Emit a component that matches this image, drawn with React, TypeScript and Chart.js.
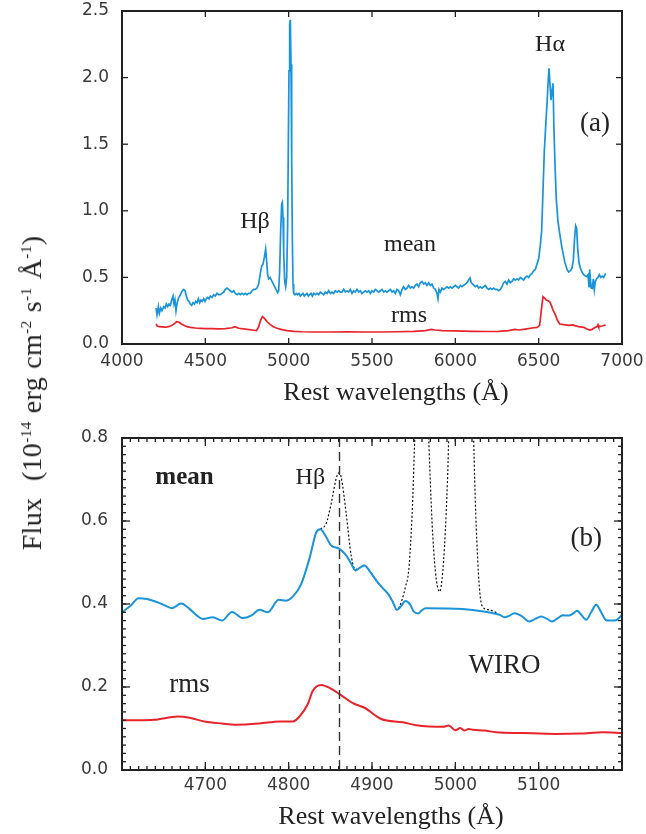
import { useEffect, useRef } from 'react';
import { Chart, registerables } from 'chart.js';

Chart.register(...registerables);

// ---------- Panel (a): full optical spectrum ----------
const fullMeanWave = [
  4204, 4210, 4218, 4224, 4232, 4240, 4250, 4258, 4266, 4274, 4282, 4290, 4298, 4306, 4312, 4318, 4324, 4330,
  4338, 4346, 4354, 4362, 4370, 4378, 4386, 4394, 4402, 4410, 4418, 4426, 4434, 4442, 4450, 4458, 4466, 4474,
  4482, 4490, 4498, 4506, 4514, 4522, 4530, 4540, 4550, 4560, 4570, 4580, 4590, 4600, 4610, 4620, 4630, 4640,
  4650, 4660, 4670, 4680, 4690, 4700, 4710, 4720, 4730, 4740, 4750, 4760, 4770, 4780, 4790, 4800, 4810, 4820,
  4830, 4838, 4846, 4854, 4862, 4868, 4874, 4880, 4888, 4896, 4904, 4912, 4920, 4928, 4934, 4940, 4946, 4952,
  4958, 4962, 4966, 4970, 4976, 4982, 4988, 4994, 4998, 5002, 5006, 5010, 5014, 5018, 5022, 5026, 5030, 5038,
  5046, 5054, 5062, 5070, 5078, 5086, 5094, 5102, 5110, 5118, 5126, 5134, 5142, 5150, 5160, 5170, 5180, 5190,
  5200, 5210, 5220, 5230, 5240, 5250, 5260, 5270, 5280, 5290, 5300, 5310, 5320, 5330, 5340, 5350, 5360, 5370,
  5380, 5390, 5400, 5410, 5420, 5430, 5440, 5450, 5460, 5470, 5480, 5490, 5500, 5510, 5520, 5530, 5540, 5550,
  5560, 5570, 5580, 5590, 5600, 5610, 5620, 5630, 5640, 5650, 5660, 5670, 5680, 5690, 5700, 5710, 5720, 5730,
  5740, 5750, 5760, 5770, 5780, 5790, 5800, 5810, 5820, 5830, 5840, 5850, 5860, 5870, 5880, 5890, 5896, 5902,
  5910, 5920, 5930, 5940, 5950, 5960, 5970, 5980, 5990, 6000, 6010, 6020, 6030, 6040, 6050, 6060, 6070, 6080,
  6088, 6096, 6104, 6112, 6120, 6130, 6140, 6150, 6160, 6170, 6180, 6190, 6200, 6210, 6220, 6230, 6240, 6250,
  6260, 6270, 6280, 6290, 6300, 6310, 6320, 6330, 6340, 6350, 6360, 6370, 6380, 6390, 6400, 6410, 6420, 6430,
  6440, 6450, 6460, 6470, 6480, 6490, 6500, 6510, 6518, 6526, 6534, 6542, 6550, 6556, 6562, 6568, 6574, 6580,
  6586, 6592, 6598, 6606, 6616, 6626, 6640, 6656, 6670, 6680, 6690, 6700, 6708, 6716, 6722, 6728, 6734, 6742,
  6750, 6760, 6770, 6780, 6788, 6796, 6802, 6806, 6812, 6816, 6822, 6828, 6834, 6840, 6848, 6856, 6864, 6872,
  6880, 6890, 6902,
];
const fullMeanFlux = [
  0.27, 0.22, 0.28, 0.23, 0.27, 0.25, 0.28, 0.27, 0.30, 0.28, 0.30, 0.29, 0.33, 0.36, 0.30, 0.33, 0.25, 0.30,
  0.34, 0.36, 0.38, 0.40, 0.41, 0.40, 0.36, 0.33, 0.32, 0.30, 0.29, 0.31, 0.30, 0.32, 0.31, 0.34, 0.31, 0.33,
  0.32, 0.34, 0.32, 0.34, 0.35, 0.34, 0.36, 0.35, 0.37, 0.36, 0.38, 0.37, 0.37, 0.38, 0.39, 0.41, 0.42, 0.41,
  0.40, 0.39, 0.40, 0.38, 0.37, 0.38, 0.37, 0.38, 0.37, 0.38, 0.37, 0.38, 0.38, 0.40, 0.41, 0.41, 0.42, 0.45,
  0.53, 0.585, 0.60, 0.65, 0.713, 0.62, 0.52, 0.49, 0.50, 0.48, 0.46, 0.44, 0.42, 0.40, 0.385, 0.40, 0.55, 0.85,
  1.05, 1.064, 0.95, 0.70, 0.47, 0.43, 0.50, 0.90, 1.50, 2.05, 2.40, 2.435, 2.10, 1.40, 0.80, 0.45, 0.38, 0.37,
  0.38, 0.37, 0.38, 0.36, 0.37, 0.38, 0.36, 0.37, 0.38, 0.36, 0.37, 0.38, 0.36, 0.38, 0.37, 0.38, 0.37, 0.39,
  0.38, 0.37, 0.39, 0.38, 0.40, 0.38, 0.39, 0.38, 0.40, 0.39, 0.40, 0.39, 0.39, 0.41, 0.39, 0.40, 0.39, 0.41,
  0.38, 0.40, 0.39, 0.41, 0.39, 0.40, 0.38, 0.39, 0.40, 0.39, 0.40, 0.38, 0.40, 0.39, 0.41, 0.40, 0.39, 0.40,
  0.41, 0.39, 0.40, 0.39, 0.40, 0.41, 0.39, 0.40, 0.38, 0.41, 0.40, 0.37, 0.41, 0.43, 0.41, 0.42, 0.44, 0.42,
  0.43, 0.42, 0.44, 0.45, 0.43, 0.46, 0.47, 0.45, 0.46, 0.44, 0.46, 0.44, 0.45, 0.42, 0.41, 0.38, 0.34, 0.41,
  0.39, 0.42, 0.41, 0.42, 0.43, 0.42, 0.43, 0.42, 0.43, 0.44, 0.43, 0.42, 0.44, 0.43, 0.44, 0.45, 0.46, 0.48,
  0.495, 0.46, 0.45, 0.44, 0.43, 0.44, 0.42, 0.43, 0.42, 0.43, 0.44, 0.42, 0.41, 0.42, 0.41, 0.42, 0.41, 0.41,
  0.40, 0.41, 0.43, 0.46, 0.47, 0.45, 0.48, 0.46, 0.47, 0.49, 0.48, 0.49, 0.48, 0.50, 0.49, 0.48, 0.50, 0.51,
  0.50, 0.52, 0.53, 0.55, 0.56, 0.60, 0.64, 0.74, 0.85, 1.15, 1.45, 1.63, 1.80, 1.95, 2.07, 1.95, 1.83, 1.90,
  1.957, 1.60, 1.35, 1.08, 0.92, 0.83, 0.72, 0.62, 0.56, 0.54, 0.55, 0.57, 0.63, 0.80, 0.888, 0.87, 0.72, 0.61,
  0.57, 0.54, 0.52, 0.51, 0.505, 0.52, 0.43, 0.56, 0.46, 0.42, 0.418, 0.49, 0.41, 0.47, 0.49, 0.50, 0.52, 0.50,
  0.51, 0.50, 0.53,
];

const fullRmsWave = [
  4204, 4212, 4224, 4240, 4260, 4280, 4300, 4316, 4328, 4340, 4356, 4372, 4390, 4410, 4440, 4470, 4500, 4540,
  4580, 4620, 4660, 4678, 4700, 4740, 4780, 4808, 4820, 4832, 4842, 4856, 4872, 4890, 4908, 4930, 4960, 4990,
  5030, 5080, 5150, 5250, 5350, 5450, 5550, 5650, 5750, 5820, 5856, 5880, 5920, 6000, 6100, 6200, 6260, 6320,
  6356, 6380, 6420, 6460, 6490, 6506, 6516, 6526, 6536, 6546, 6556, 6566, 6576, 6586, 6600, 6612, 6626, 6650,
  6680, 6706, 6716, 6740, 6770, 6790, 6806, 6820, 6840, 6850, 6856, 6860, 6880, 6902,
];
const fullRmsFlux = [
  0.15, 0.135, 0.13, 0.128, 0.126, 0.13, 0.14, 0.155, 0.167, 0.165, 0.15, 0.14, 0.13, 0.125, 0.12, 0.118, 0.115,
  0.115, 0.113, 0.116, 0.122, 0.13, 0.118, 0.112, 0.105, 0.10, 0.13, 0.18, 0.205, 0.19, 0.165, 0.145, 0.13, 0.118,
  0.108, 0.10, 0.095, 0.092, 0.09, 0.09, 0.091, 0.09, 0.09, 0.092, 0.095, 0.10, 0.11, 0.105, 0.10, 0.098, 0.095,
  0.094, 0.095, 0.10, 0.11, 0.105, 0.112, 0.12, 0.125, 0.14, 0.255, 0.355, 0.345, 0.33, 0.325, 0.318, 0.29, 0.255,
  0.22, 0.18, 0.15, 0.145, 0.14, 0.143, 0.138, 0.13, 0.125, 0.112, 0.105, 0.11, 0.125, 0.13, 0.145, 0.13, 0.135,
  0.143,
];

const fullXTicks = { min: 4000, max: 7000, step: 500 };
const fullYTicks = { min: 0, max: 2.5, step: 0.5 };

// ---------- Panel (b): H-beta region (WIRO) ----------
const zoomMeanWave = [
  4600, 4610, 4620, 4630, 4640, 4650, 4660, 4671, 4680, 4690, 4697, 4709, 4720, 4732, 4745, 4755, 4765, 4775,
  4788, 4797, 4806, 4815, 4825, 4833, 4838, 4844, 4851, 4861, 4869, 4875, 4880, 4886, 4891, 4898, 4905, 4912,
  4919, 4925, 4930, 4935, 4940, 4946, 4950, 4955, 4960, 4964, 5053, 5059, 5065, 5071, 5080, 5089, 5096, 5103,
  5110, 5116, 5123, 5129, 5136, 5142, 5146, 5152, 5157, 5163, 5169, 5175, 5181, 5187, 5193, 5200,
];
const zoomMeanFlux = [
  0.38, 0.395, 0.414, 0.412, 0.406, 0.398, 0.39, 0.401, 0.39, 0.372, 0.364, 0.368, 0.36, 0.381, 0.366, 0.372,
  0.386, 0.38, 0.41, 0.408, 0.42, 0.448, 0.51, 0.572, 0.58, 0.565, 0.541, 0.533, 0.517, 0.497, 0.481, 0.488,
  0.493, 0.477, 0.457, 0.44, 0.425, 0.405, 0.386, 0.395, 0.407, 0.398, 0.382, 0.377, 0.385, 0.39, 0.374, 0.368,
  0.372, 0.378, 0.37, 0.358, 0.364, 0.37, 0.364, 0.358, 0.366, 0.373, 0.372, 0.378, 0.384, 0.372, 0.362, 0.38,
  0.398, 0.38, 0.361, 0.36, 0.361, 0.374,
];

// Mean spectrum before removal of the narrow H-beta and [O III] lines
const zoomNarrowWave = [
  4838, 4845, 4851, 4857, 4860, 4863, 4869, 4875, 4880, 4886, 4891, 4898, 4905, 4912, 4919, 4925, 4930, 4936,
  4940, 4944, 4947, 4949, 4951, 4955, 4960, 4965, 4968, 4972, 4976, 4981, 4985, 4989, 4992, 4996, 5001, 5007,
  5013, 5018, 5022, 5027, 5032, 5040, 5051,
];
const zoomNarrowFlux = [
  0.58, 0.594, 0.642, 0.702, 0.716, 0.706, 0.618, 0.517, 0.483, 0.488, 0.493, 0.477, 0.457, 0.44, 0.425, 0.405,
  0.386, 0.41, 0.44, 0.48, 0.57, 0.66, 0.78, 0.97, 1.06, 0.96, 0.8, 0.6, 0.48, 0.43, 0.48, 0.62, 0.8, 1.3, 2.0,
  2.4, 2.0, 1.3, 0.8, 0.5, 0.396, 0.386, 0.378,
];

const zoomRmsWave = [
  4600, 4620, 4639, 4667, 4681, 4699, 4720, 4737, 4765, 4789, 4805, 4813, 4823, 4829, 4839, 4849, 4861, 4877,
  4891, 4911, 4937, 4953, 4969, 4985, 4992, 5000, 5006, 5011, 5016, 5021, 5035, 5049, 5081, 5121, 5150, 5177,
  5200,
];
const zoomRmsFlux = [
  0.12, 0.12, 0.121, 0.129, 0.126, 0.117, 0.112, 0.109, 0.112, 0.117, 0.117, 0.129, 0.159, 0.191, 0.205, 0.198,
  0.183, 0.161, 0.15, 0.123, 0.115, 0.108, 0.105, 0.104, 0.107, 0.096, 0.101, 0.095, 0.099, 0.097, 0.095, 0.091,
  0.089, 0.087, 0.088, 0.091, 0.089,
];

const zoomXTicks = { min: 4600, max: 5200, step: 100, minor: 10 };
const zoomYTicks = { min: 0, max: 0.8, step: 0.2, minor: 0.02 };
const HBETA_REST = 4861;

const MEAN_COLOR = '#1a93d8';
const RMS_COLOR = '#e8232b';
const INK = '#222222';
const SERIF = '"Liberation Serif", "Times New Roman", serif';
const SANS = '"DejaVu Sans", sans-serif';

const pairs = (xs: number[], ys: number[]) => xs.map((x, i) => ({ x, y: ys[i] }));

// Frame, inward tick marks, marker line, in-plot labels and x title.
const framePlugin = {
  id: 'frame',
  afterDatasetsDraw(chart: any, _args: any, opts: any) {
    const { ctx, chartArea: a, scales } = chart;
    const xs = scales.x;
    const ys = scales.y;
    ctx.save();

    if (opts.marker != null) {
      const px = xs.getPixelForValue(opts.marker);
      ctx.strokeStyle = '#333';
      ctx.lineWidth = 1.4;
      ctx.setLineDash([9, 5]);
      ctx.beginPath();
      ctx.moveTo(px, a.top);
      ctx.lineTo(px, a.bottom);
      ctx.stroke();
      ctx.setLineDash([]);
    }

    ctx.strokeStyle = INK;
    ctx.lineWidth = 1.3;
    const seg = (x1: number, y1: number, x2: number, y2: number) => {
      ctx.beginPath();
      ctx.moveTo(x1, y1);
      ctx.lineTo(x2, y2);
      ctx.stroke();
    };
    const xTick = (v: number, len: number) => {
      const px = xs.getPixelForValue(v);
      seg(px, a.bottom, px, a.bottom - len);
      seg(px, a.top, px, a.top + len);
    };
    const yTick = (v: number, len: number) => {
      const py = ys.getPixelForValue(v);
      seg(a.left, py, a.left + len, py);
      seg(a.right, py, a.right - len, py);
    };
    if (opts.minorX) {
      for (let v = xs.min; v <= xs.max + 1e-9; v += opts.minorX) xTick(v, opts.minorLen);
    }
    if (opts.minorY) {
      for (let i = 0; ys.min + i * opts.minorY <= ys.max + 1e-9; i++) yTick(ys.min + i * opts.minorY, opts.minorLen);
    }
    xs.ticks.forEach((t: any) => xTick(t.value, opts.majorLen));
    ys.ticks.forEach((t: any) => yTick(t.value, opts.majorLen));

    ctx.lineWidth = 2;
    ctx.strokeRect(a.left, a.top, a.right - a.left, a.bottom - a.top);

    ctx.fillStyle = INK;
    ctx.textAlign = 'center';
    ctx.textBaseline = 'middle';
    (opts.labels || []).forEach((l: any) => {
      ctx.font = `${l.weight || 'normal'} ${l.size}px ${SERIF}`;
      ctx.fillText(l.text, xs.getPixelForValue(l.x), ys.getPixelForValue(l.y));
    });

    ctx.textBaseline = 'alphabetic';
    ctx.font = `26px ${SERIF}`;
    ctx.fillText(opts.xTitle, a.left + opts.xTitleDx, a.bottom + opts.xTitleDy);
    ctx.restore();
  },
};

function makeConfig(p: any) {
  return {
    type: 'line',
    data: { datasets: p.datasets },
    plugins: [framePlugin],
    options: {
      responsive: false,
      animation: false,
      events: [],
      layout: { padding: { top: p.top, right: p.right, left: 0, bottom: 0 } },
      elements: { point: { radius: 0 } },
      plugins: {
        legend: { display: false },
        tooltip: { enabled: false },
        frame: p.frame,
      },
      scales: {
        x: {
          type: 'linear',
          min: p.xTicks.min,
          max: p.xTicks.max,
          grid: { display: false, drawTicks: false },
          border: { display: false },
          afterFit: (s: any) => {
            s.height = p.xAxisHeight;
            s.paddingLeft = 0;
            s.paddingRight = 0;
          },
          ticks: {
            stepSize: p.xTicks.step,
            padding: p.xPad,
            color: '#3a3a3a',
            font: { family: SANS, size: 17 },
            maxRotation: 0,
            autoSkip: false,
            callback: (v: number) => (p.xHide.includes(v) ? '' : String(v)),
          },
        },
        y: {
          type: 'linear',
          min: p.yTicks.min,
          max: p.yTicks.max,
          grid: { display: false, drawTicks: false },
          border: { display: false },
          afterFit: (s: any) => {
            s.width = p.yAxisWidth;
            s.paddingTop = 0;
            s.paddingBottom = 0;
          },
          ticks: {
            stepSize: p.yTicks.step,
            padding: p.yPad,
            color: '#3a3a3a',
            font: { family: SANS, size: 17 },
            callback: (v: number) => Number(v).toFixed(1),
          },
        },
      },
    },
  };
}

function SpectrumPanel({ config, top }: { config: any; top: number }) {
  const ref = useRef<HTMLCanvasElement | null>(null);
  useEffect(() => {
    if (!ref.current) return;
    const chart = new Chart(ref.current, config);
    return () => chart.destroy();
  }, [config]);
  return (
    <canvas
      ref={ref}
      width={646}
      height={417}
      style={{ position: 'absolute', left: 0, top, width: 646, height: 417, display: 'block' }}
    />
  );
}

const fullConfig = makeConfig({
  top: 11,
  right: 24,
  xAxisHeight: 73,
  yAxisWidth: 122,
  xPad: 7,
  yPad: 13,
  xTicks: fullXTicks,
  yTicks: fullYTicks,
  xHide: [],
  datasets: [
    {
      data: pairs(fullMeanWave, fullMeanFlux),
      borderColor: MEAN_COLOR,
      borderWidth: 1.7,
      tension: 0,
    },
    {
      data: pairs(fullRmsWave, fullRmsFlux),
      borderColor: RMS_COLOR,
      borderWidth: 1.7,
      tension: 0,
    },
  ],
  frame: {
    majorLen: 6,
    minorLen: 0,
    xTitle: 'Rest wavelengths (Å)',
    xTitleDx: 274,
    xTitleDy: 56,
    labels: [
      { text: 'Hβ', x: 4798, y: 0.916, size: 24 },
      { text: 'Hα', x: 6568, y: 2.245, size: 24 },
      { text: '(a)', x: 6838, y: 1.652, size: 27 },
      { text: 'mean', x: 5728, y: 0.743, size: 24 },
      { text: 'rms', x: 5722, y: 0.21, size: 24 },
    ],
  },
});

const zoomConfig = makeConfig({
  top: 21,
  right: 24,
  xAxisHeight: 64,
  yAxisWidth: 122,
  xPad: 5,
  yPad: 14,
  xTicks: zoomXTicks,
  yTicks: zoomYTicks,
  xHide: [zoomXTicks.min, zoomXTicks.max],
  datasets: [
    {
      data: pairs(zoomMeanWave, zoomMeanFlux),
      borderColor: MEAN_COLOR,
      borderWidth: 2,
      cubicInterpolationMode: 'monotone',
    },
    {
      data: pairs(zoomRmsWave, zoomRmsFlux),
      borderColor: RMS_COLOR,
      borderWidth: 2,
      cubicInterpolationMode: 'monotone',
    },
    {
      data: pairs(zoomNarrowWave, zoomNarrowFlux),
      borderColor: '#111',
      borderWidth: 1.2,
      borderDash: [2, 2],
      cubicInterpolationMode: 'monotone',
    },
  ],
  frame: {
    majorLen: 8,
    minorLen: 4,
    minorX: zoomXTicks.minor,
    minorY: zoomYTicks.minor,
    marker: HBETA_REST,
    xTitle: 'Rest wavelengths (Å)',
    xTitleDx: 269,
    xTitleDy: 54,
    labels: [
      { text: 'mean', x: 4675, y: 0.705, size: 25, weight: 'bold' },
      { text: 'Hβ', x: 4826, y: 0.705, size: 24 },
      { text: '(b)', x: 5157, y: 0.558, size: 27 },
      { text: 'WIRO', x: 5059, y: 0.252, size: 27 },
      { text: 'rms', x: 4681, y: 0.204, size: 27 },
    ],
  },
});

const supStyle = { fontSize: '0.55em' };

export default function App() {
  return (
    <div
      style={{
        position: 'absolute',
        left: 0,
        top: 0,
        width: 646,
        height: 834,
        background: '#fff',
        overflow: 'hidden',
      }}
    >
      <SpectrumPanel config={fullConfig} top={0} />
      <SpectrumPanel config={zoomConfig} top={417} />
      <div style={{ position: 'absolute', left: 32, top: 393, width: 0, height: 0 }}>
        <div
          style={{
            position: 'absolute',
            left: 0,
            top: 0,
            whiteSpace: 'nowrap',
            font: `28px ${SERIF}`,
            letterSpacing: '0.3px',
            wordSpacing: '1px',
            color: INK,
            transform: 'translate(-50%, -50%) rotate(-90deg)',
          }}
        >
          Flux&nbsp; (10<sup style={supStyle}>-14</sup> erg cm<sup style={supStyle}>-2</sup> s
          <sup style={supStyle}>-1</sup> Å<sup style={supStyle}>-1</sup>)
        </div>
      </div>
    </div>
  );
}
